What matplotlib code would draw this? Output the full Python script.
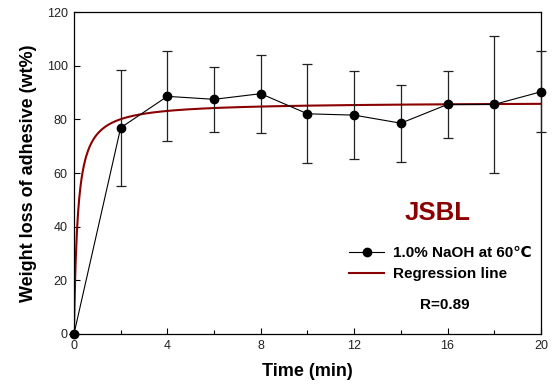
import numpy as np
import matplotlib
matplotlib.use("Agg")
import matplotlib.pyplot as plt
from matplotlib.lines import Line2D
from matplotlib.ticker import MultipleLocator

plt.rcParams["font.family"] = ["Liberation Sans", "DejaVu Sans"]

# measured weight loss (wt%) vs time (min)
time_min = [0, 2, 4, 6, 8, 10, 12, 14, 16, 18, 20]
weight_loss = [0, 76.9, 88.6, 87.5, 89.6, 82.1, 81.6, 78.6, 85.6, 85.6, 90.3]
std_dev = [0, 21.7, 16.8, 12.2, 14.6, 18.5, 16.5, 14.3, 12.6, 25.4, 15.1]

# regression line y = a*x/(b+x)
fit_a = 86.5
fit_b = 0.16
r_value = 0.89

red = "#8b0000"

fig = plt.figure(figsize=(5.52, 3.92), dpi=100)
ax = fig.add_axes([0.134, 0.148, 0.846, 0.821])

xf = np.linspace(0, 20, 800)
yf = fit_a * xf / (fit_b + xf)
ax.plot(xf, yf, color=red, lw=1.5, zorder=2)

ax.errorbar(time_min, weight_loss, yerr=std_dev, fmt="o-", color="black",
            ecolor="#222222", elinewidth=0.9, capsize=3.5, capthick=0.9,
            lw=0.8, markersize=6, zorder=3, clip_on=False)

ax.set_xlim(0, 20)
ax.set_ylim(0, 120)
ax.xaxis.set_major_locator(MultipleLocator(4))
ax.xaxis.set_minor_locator(MultipleLocator(2))
ax.yaxis.set_major_locator(MultipleLocator(20))
ax.tick_params(which="both", direction="in", labelsize=9, colors="black", pad=4.5)
ax.tick_params(axis="x", labelcolor="#222222")
ax.tick_params(axis="y", labelcolor="#222222")
ax.tick_params(which="major", length=4, width=0.8)
ax.tick_params(which="minor", length=3, width=0.8)
for s in ax.spines.values():
    s.set_linewidth(0.9)

ax.set_xlabel("Time (min)", fontsize=13, fontweight="bold", labelpad=8)
ax.set_ylabel("Weight loss of adhesive (wt%)", fontsize=13, fontweight="bold", labelpad=7)

ax.text(0.779, 0.376, "JSBL", transform=ax.transAxes, color=red,
        fontsize=18.5, fontweight="bold", ha="center", va="center")

handles = [
    Line2D([], [], color="black", lw=0.8, marker="o", markersize=6),
    Line2D([], [], color=red, lw=1.5),
]
ax.legend(handles, ["1.0% NaOH at 60\u2103", "Regression line"],
          loc="upper left", bbox_to_anchor=(0.589, 0.272), frameon=False,
          prop={"weight": "bold", "size": 11}, handlelength=2.3,
          handletextpad=0.6, labelspacing=0.45, borderpad=0, borderaxespad=0)

ax.text(0.794, 0.090, f"R={r_value}", transform=ax.transAxes,
        fontsize=11, fontweight="bold", ha="center", va="center")

fig.savefig("out.png", dpi=100)
